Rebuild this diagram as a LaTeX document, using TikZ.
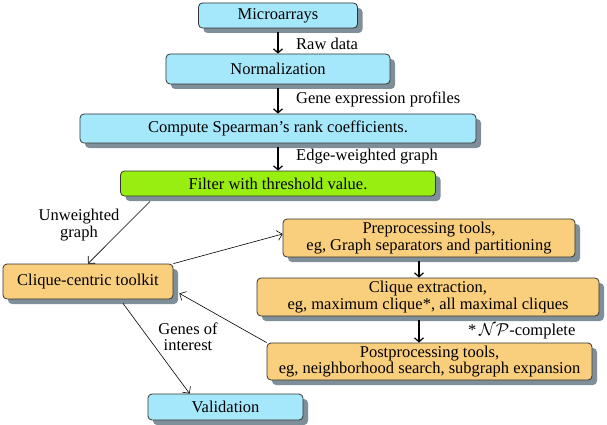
\documentclass[tikz,border=0pt]{standalone}
\usepackage{amsmath}
\usepackage{amssymb}
\usepackage{fontspec}
\setmainfont{Liberation Serif}
\usepackage{tikz}
\usetikzlibrary{shapes.geometric, arrows, arrows.meta, calc, positioning, shadows}
\definecolor{boxblue}{RGB}{166,232,251}
\definecolor{boxgreen}{RGB}{153,238,17}
\definecolor{boxorange}{RGB}{249,207,126}
\definecolor{boxshadow}{RGB}{127,143,153}
\tikzstyle{box} = [rectangle, rounded corners=4pt, draw=black!80, line width=0.8pt, inner sep=0pt, text centered, align=center, drop shadow={shadow xshift=5pt, shadow yshift=-5pt, fill=boxshadow, opacity=1}]
\tikzstyle{bluebox} = [box, fill=boxblue]
\tikzstyle{greenbox} = [box, fill=boxgreen]
\tikzstyle{orangebox} = [box, fill=boxorange]
\tikzstyle{arrow} = [line width=1.2pt, ->, >={Straight Barb[length=4pt, width=9pt]}]
\tikzstyle{thinarrow} = [line width=0.6pt, ->, >={Straight Barb[length=5pt, width=10pt]}]
\tikzstyle{lbl} = [inner sep=0pt, align=center]

\begin{document}
\begin{tikzpicture}[x=1pt, y=-1pt, font=\fontsize{16.5}{16.5}\selectfont]
		\useasboundingbox (0,0) rectangle (607,425);
		% main column
		\node (Micro) [bluebox, minimum width=159, minimum height=25] at (278,15.5) {Microarrays};
		\node (Norm) [bluebox, minimum width=224, minimum height=30] at (278,69) {Normalization};
		\node (Compute) [bluebox, minimum width=396, minimum height=29] at (278,128.5) {Compute Spearman's rank coefficients.};
		\node (Filter) [greenbox, minimum width=315, minimum height=25] at (278,183.5) {Filter with threshold value.};
		% toolkit
		\node (Toolkit) [orangebox, minimum width=170, minimum height=35] at (88,281.5) {Clique-centric toolkit};
		\node (Pre) [orangebox, minimum width=292, minimum height=38] at (429,238) {Preprocessing tools,\\eg, Graph separators and partitioning};
		\node (Clique) [orangebox, minimum width=342, minimum height=38] at (428,297) {Clique extraction,\\eg, maximum clique*, all maximal cliques};
		\node (Post) [orangebox, minimum width=325, minimum height=37] at (429.5,361.5) {Postprocessing tools,\\eg, neighborhood search, subgraph expansion};
		\node (Valid) [bluebox, minimum width=155, minimum height=26] at (225.5,407) {Validation};
		% labels
		\node (RawData) [lbl, anchor=west] at (296,44) {Raw data};
		\node (GeneProf) [lbl, anchor=west] at (296,99) {Gene expression profiles};
		\node (EdgeGraph) [lbl, anchor=west] at (296,157) {Edge-weighted graph};
		\node (Unweighted) [lbl] at (79,225) {Unweighted\\graph};
		\node (GenesInt) [lbl] at (188,337) {Genes of\\interest};
		\node (NPnote) [lbl, anchor=west] at (468,331) {*\,$\mathcal{NP}$-complete};
		% arrows
		\draw [arrow] ([yshift=-4pt]Micro.south) -- (Norm.north);
		\draw [arrow] ([yshift=-4pt]Norm.south) -- (Compute.north);
		\draw [arrow] ([yshift=-4pt]Compute.south) -- (Filter.north);
		\draw [thinarrow] ([xshift=30pt,yshift=-5pt]Filter.south west) -- (Toolkit.north);
		\draw [thinarrow] (Toolkit.north east) -- ([yshift=4pt]Pre.west);
		\draw [arrow] ([xshift=-10pt,yshift=-4pt]Pre.south) -- ([xshift=-9pt]Clique.north);
		\draw [arrow] ([xshift=-9pt,yshift=-4pt]Clique.south) -- ([xshift=-10.5pt]Post.north);
		\draw [thinarrow] (Post.north west) -- ([xshift=6pt,yshift=6pt]Toolkit.south east);
		\draw [thinarrow] ([xshift=35pt,yshift=-4pt]Toolkit.south) -- ([xshift=42pt]Valid.north west);
	\end{tikzpicture}
\end{document}
